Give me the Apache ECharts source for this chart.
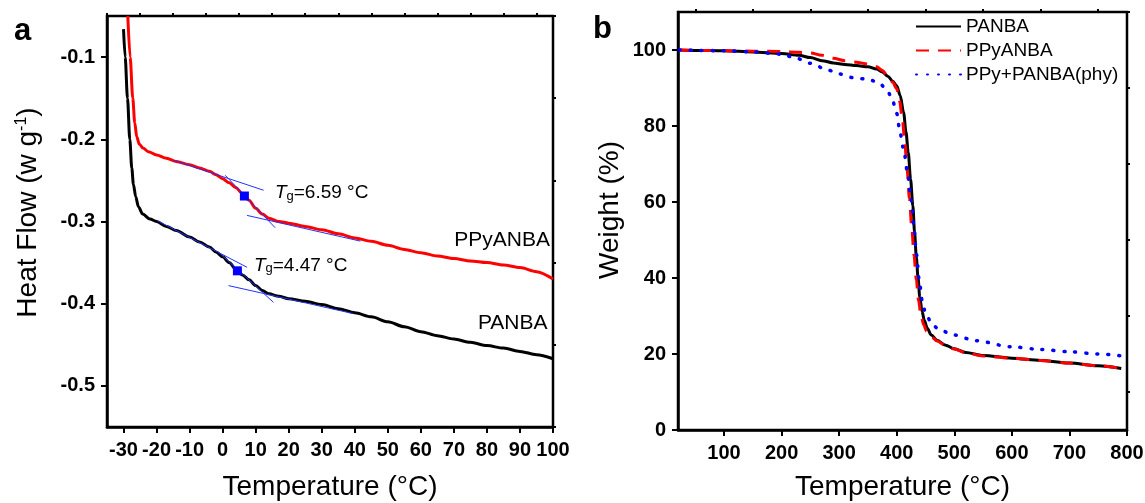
<!DOCTYPE html>
<html>
<head>
  <meta charset='utf-8'>
  <script src="https://cdn.jsdelivr.net/npm/echarts@6/dist/echarts.min.js"></script>
  <title>DSC / TGA</title>
  <style>
    html, body { margin: 0; padding: 0; background: #fff; }
  </style>
</head>
<body>
<div id="chart" style="width: 1145px;height:503px;"></div>
<script type="text/javascript">
  // ---- (a) DSC data ----
  var dscPanbaT = [-30, -29.5, -28.8, -28.1, -27.5, -27, -26.3, -25.5, -24.2, -22, -20, -17, -14, -10, -7, -4, -2, 0, 2, 4, 6, 8, 10, 12, 14, 17, 20, 25, 30, 35, 40, 45, 50, 55, 60, 65, 70, 75, 80, 85, 90, 95, 100];
  var dscPanbaHF = [-0.066, -0.1, -0.15, -0.2, -0.235, -0.255, -0.27, -0.282, -0.291, -0.297, -0.300, -0.306, -0.311, -0.319, -0.325, -0.331, -0.337, -0.343, -0.350, -0.358, -0.365, -0.371, -0.378, -0.384, -0.388, -0.391, -0.394, -0.397, -0.401, -0.406, -0.411, -0.416, -0.422, -0.428, -0.434, -0.439, -0.443, -0.447, -0.451, -0.454, -0.458, -0.462, -0.467];
  var dscPpyT = [-28.7, -28, -27.2, -26.6, -26, -25.2, -24, -22.5, -20, -17, -14, -10, -7, -4, -2, 0, 2, 4, 6, 8, 10, 12, 14, 17, 20, 25, 30, 35, 40, 45, 50, 55, 60, 65, 70, 75, 80, 85, 90, 95, 100];
  var dscPpyHF = [-0.05, -0.1, -0.15, -0.18, -0.197, -0.206, -0.211, -0.215, -0.219, -0.223, -0.227, -0.231, -0.235, -0.239, -0.243, -0.248, -0.253, -0.259, -0.266, -0.274, -0.284, -0.291, -0.296, -0.300, -0.302, -0.306, -0.310, -0.315, -0.320, -0.324, -0.329, -0.334, -0.338, -0.342, -0.345, -0.348, -0.350, -0.353, -0.356, -0.361, -0.370];

  // tangent construction lines [x1, y1, x2, y2]
  var tangentLines = [
    [-14.9, -0.2254, 12.4, -0.262],
    [0.8, -0.2438, 15.9, -0.3076],
    [7.4, -0.2926, 41.7, -0.3239],
    [-19.9, -0.2987, 7.4, -0.3557],
    [-1.2, -0.3374, 15.4, -0.3984],
    [1.8, -0.378, 39.5, -0.412]
  ];
  var tgPanba = [4.47, -0.360];
  var tgPpy = [6.59, -0.269];

  var xTicksA = [-30, -20, -10, 0, 10, 20, 30, 40, 50, 60, 70, 80, 90, 100];
  var xMinorA = [-35, -25, -15, -5, 5, 15, 25, 35, 45, 55, 65, 75, 85, 95];
  var yTicksA = [-0.5, -0.4, -0.3, -0.2, -0.1];
  var yMinorA = [-0.55, -0.45, -0.35, -0.25, -0.15, -0.05];

  // ---- (b) TGA data ----
  var tgaPanbaT = [22, 50, 100, 150, 200, 230, 250, 270, 290, 310, 330, 350, 365, 375, 385, 393, 400, 406, 412, 416, 420, 424, 428, 431, 434, 437, 440, 444, 448, 453, 460, 470, 485, 500, 520, 550, 600, 650, 700, 750, 790];
  var tgaPanbaW = [100, 99.9, 99.8, 99.5, 99.1, 98.6, 98.0, 97.2, 96.6, 96.2, 95.9, 95.6, 95.0, 94.2, 93.0, 91.8, 90.6, 88, 83.5, 78.5, 73, 66, 59, 52, 45.5, 40, 35, 31.2, 28.8, 26.8, 25.0, 23.6, 22.3, 21.4, 20.4, 19.6, 18.9, 18.3, 17.6, 16.9, 16.2];
  var tgaPpyT = [22, 50, 100, 150, 200, 230, 250, 270, 290, 310, 330, 350, 365, 375, 385, 393, 400, 405, 410, 414, 418, 422, 426, 430, 434, 438, 442, 447, 452, 460, 470, 485, 500, 520, 550, 600, 650, 700, 750, 790];
  var tgaPpyW = [100, 99.9, 99.8, 99.7, 99.6, 99.4, 99.2, 98.6, 97.8, 97.2, 96.8, 96.3, 95.6, 94.6, 93.0, 91.5, 89.8, 86.5, 81.5, 75.5, 68.5, 61, 53.5, 46, 39.5, 34, 30.2, 27.6, 26.0, 24.6, 23.4, 22.2, 21.3, 20.3, 19.5, 18.9, 18.3, 17.6, 16.9, 16.2];
  var tgaPhyT = [22, 50, 100, 150, 200, 226, 250, 281, 300, 325, 350, 369, 381, 391, 400, 406, 412, 419, 425, 430, 434, 439, 444, 450, 462, 475, 499, 537, 599, 650, 699, 750, 791];
  var tgaPhyW = [100, 99.9, 99.8, 99.5, 98.9, 97.8, 96.5, 94.7, 93.7, 92.7, 92.3, 91.4, 89.9, 87.7, 83.3, 78, 73.7, 67.5, 60.5, 53.5, 46.5, 39.5, 34.2, 30.7, 27.6, 26.3, 25.0, 23.5, 21.9, 21.2, 20.6, 20.0, 19.5];

  var xTicksB = [100, 200, 300, 400, 500, 600, 700, 800];
  var xMinorB = [50, 150, 250, 350, 450, 550, 650, 750];
  var yTicksB = [0, 20, 40, 60, 80, 100];
  var yMinorB = [10, 30, 50, 70, 90, 110];

  var legendNames = ['PANBA', 'PPyANBA', 'PPy+PANBA(phy)'];

  function pairs(xs, ys) {
    return xs.map(function (x, i) { return [x, ys[i]]; });
  }

  var FONT = 'Arial, "Liberation Sans", sans-serif';
  var tickLabel = { color: '#000', fontFamily: FONT, fontSize: 20, fontWeight: 'bold' };
  var axisLine = { show: true, onZero: false, lineStyle: { color: '#000', width: 2.5 } };

  function majorAxis(extra) {
    return Object.assign({
      type: 'value',
      axisLine: axisLine,
      splitLine: { show: false },
      nameLocation: 'middle',
      nameTextStyle: { color: '#000', fontFamily: FONT, fontSize: 28 }
    }, extra);
  }
  function minorAxis(extra) {
    return Object.assign({
      type: 'value',
      axisLine: { show: false, onZero: false },
      axisLabel: { show: false },
      splitLine: { show: false }
    }, extra);
  }
  function ticks(values, len) {
    return { show: true, length: len, customValues: values, lineStyle: { color: '#000', width: 2 } };
  }

  var tgLabelRich = {
    i: { fontFamily: FONT, fontSize: 19, fontStyle: 'italic', color: '#000' },
    s: { fontFamily: FONT, fontSize: 13, color: '#000', verticalAlign: 'bottom', lineHeight: 8 },
    n: { fontFamily: FONT, fontSize: 19, color: '#000' }
  };

  var chart = echarts.init(document.getElementById('chart'));

  var series = [];
  // tangents (a)
  tangentLines.forEach(function (t) {
    series.push({
      type: 'line', xAxisIndex: 0, yAxisIndex: 0, silent: true, symbol: 'none',
      lineStyle: { color: '#2233ff', width: 1 }, z: 3,
      data: [[t[0], t[1]], [t[2], t[3]]]
    });
  });
  series.push({
    name: 'PANBA (DSC)', type: 'line', xAxisIndex: 0, yAxisIndex: 0, symbol: 'none',
    smooth: 0.3, smoothMonotone: 'x', lineStyle: { color: '#000', width: 3 }, z: 2,
    data: pairs(dscPanbaT, dscPanbaHF),
    markPoint: {
      silent: true,
      data: [
        { coord: tgPanba, symbol: 'rect', symbolSize: 9, itemStyle: { color: '#0000ff' },
          label: { show: true, position: 'right', distance: 12, offset: [0, -5],
            formatter: '{i|T}{s|g}{n|=4.47 °C}', rich: tgLabelRich } },
        { coord: [87.8, -0.424], symbol: 'rect', symbolSize: 0,
          label: { show: true, position: 'inside', formatter: 'PANBA', color: '#000', fontFamily: FONT, fontSize: 21 } }
      ]
    }
  });
  series.push({
    name: 'PPyANBA (DSC)', type: 'line', xAxisIndex: 0, yAxisIndex: 0, symbol: 'none',
    smooth: 0.3, smoothMonotone: 'x', lineStyle: { color: '#ff0000', width: 3 }, z: 2,
    data: pairs(dscPpyT, dscPpyHF),
    markPoint: {
      silent: true,
      data: [
        { coord: tgPpy, symbol: 'rect', symbolSize: 9, itemStyle: { color: '#0000ff' },
          label: { show: true, position: 'right', distance: 26, offset: [0, -3],
            formatter: '{i|T}{s|g}{n|=6.59 °C}', rich: tgLabelRich } },
        { coord: [84.6, -0.323], symbol: 'rect', symbolSize: 0,
          label: { show: true, position: 'inside', formatter: 'PPyANBA', color: '#000', fontFamily: FONT, fontSize: 21 } }
      ]
    }
  });
  // TGA (b)
  series.push({
    name: legendNames[0], type: 'line', xAxisIndex: 2, yAxisIndex: 2, symbol: 'none',
    smooth: 0.3, smoothMonotone: 'x', itemStyle: { color: '#000' }, lineStyle: { color: '#000', width: 3 },
    data: pairs(tgaPanbaT, tgaPanbaW)
  });
  series.push({
    name: legendNames[1], type: 'line', xAxisIndex: 2, yAxisIndex: 2, symbol: 'none',
    smooth: 0.3, smoothMonotone: 'x', itemStyle: { color: '#ff0000' }, lineStyle: { color: '#ff0000', width: 3, type: [13, 9] },
    data: pairs(tgaPpyT, tgaPpyW)
  });
  series.push({
    name: legendNames[2], type: 'line', xAxisIndex: 2, yAxisIndex: 2, symbol: 'none',
    smooth: 0.3, smoothMonotone: 'x', itemStyle: { color: '#0000ff' }, lineStyle: { color: '#0000ff', width: 3.5, type: [1, 10], cap: 'round' },
    data: pairs(tgaPhyT, tgaPhyW)
  });

  var option = {
    backgroundColor: '#fff',
    animation: false,
    title: [
      { text: 'a', left: 14, top: 16, padding: 0, textStyle: { fontFamily: FONT, fontSize: 31, fontWeight: 'bold', color: '#000' } },
      { text: 'b', left: 593, top: 14, padding: 0, textStyle: { fontFamily: FONT, fontSize: 31, fontWeight: 'bold', color: '#000' } }
    ],
    legend: {
      data: legendNames,
      orient: 'vertical',
      left: 915, top: 17,
      padding: 0,
      itemWidth: 45, itemHeight: 14, itemGap: 5,
      itemStyle: { opacity: 0 },
      textStyle: { color: '#000', fontFamily: FONT, fontSize: 19, lineHeight: 19 }
    },
    grid: [
      { left: 107, top: 16, width: 446, height: 411, outerBoundsMode: 'none', show: true, borderColor: '#000', borderWidth: 2.5, backgroundColor: 'transparent' },
      { left: 678, top: 12, width: 449, height: 418, outerBoundsMode: 'none', show: true, borderColor: '#000', borderWidth: 2.5, backgroundColor: 'transparent' }
    ],
    xAxis: [
      majorAxis({ gridIndex: 0, min: -35, max: 100, name: 'Temperature (°C)', nameGap: 46,
        axisTick: ticks(xTicksA, 6),
        axisLabel: Object.assign({ customValues: xTicksA, margin: 13 }, tickLabel) }),
      minorAxis({ gridIndex: 0, min: -35, max: 100, axisTick: ticks(xMinorA, 3) }),
      majorAxis({ gridIndex: 1, min: 20, max: 800, name: 'Temperature (°C)', nameGap: 43,
        axisTick: ticks(xTicksB, 6),
        axisLabel: Object.assign({ customValues: xTicksB, margin: 13 }, tickLabel) }),
      minorAxis({ gridIndex: 1, min: 20, max: 800, axisTick: ticks(xMinorB, 3) })
    ],
    yAxis: [
      majorAxis({ gridIndex: 0, min: -0.55, max: -0.05, name: '{n|Heat Flow (w g}{s|-1}{n|)}', nameGap: 65,
        nameTextStyle: { color: '#000', fontFamily: FONT, fontSize: 28, padding: [0, 0, 0, 18],
          rich: { n: { color: '#000', fontFamily: FONT, fontSize: 28 }, s: { color: '#000', fontFamily: FONT, fontSize: 16, verticalAlign: 'top', lineHeight: 14 } } },
        axisTick: ticks(yTicksA, 6),
        axisLabel: Object.assign({ customValues: yTicksA, margin: 12, formatter: function (v) { return v.toFixed(1); } }, tickLabel) }),
      minorAxis({ gridIndex: 0, min: -0.55, max: -0.05, axisTick: ticks(yMinorA, 3) }),
      majorAxis({ gridIndex: 1, min: 0, max: 110, name: 'Weight (%)', nameGap: 54,
        nameTextStyle: { color: '#000', fontFamily: FONT, fontSize: 28, padding: [0, 0, 0, 22] },
        axisTick: ticks(yTicksB, 6),
        axisLabel: Object.assign({ customValues: yTicksB, margin: 12 }, tickLabel) }),
      minorAxis({ gridIndex: 1, min: 0, max: 110, axisTick: ticks(yMinorB, 3) })
    ],
    series: series
  };

  chart.setOption(option);

  window.addEventListener('resize', function () {
    chart.resize();
  });
</script>
</body>
</html>
